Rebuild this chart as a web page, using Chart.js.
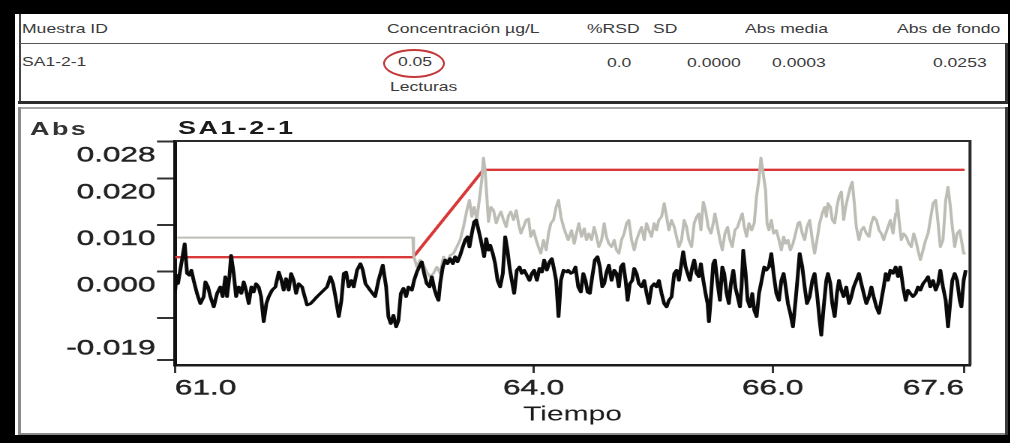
<!DOCTYPE html>
<html><head><meta charset="utf-8">
<script src="https://cdn.jsdelivr.net/npm/chart.js@4.4.1/dist/chart.umd.min.js"></script>
<style>
html,body{margin:0;padding:0;}
body{width:1010px;height:443px;background:#000;position:relative;overflow:hidden;font-family:"Liberation Sans",Arial,sans-serif;}
#sheet{position:absolute;left:15px;top:14px;width:993px;height:421px;background:#fff;}
.ln{position:absolute;}
#tbl{position:absolute;left:0;top:0;width:748px;height:110px;transform:scaleX(1.35);transform-origin:0 0;}
#tbl div{position:absolute;font-size:13px;line-height:13px;color:#3a3a3a;white-space:nowrap;}
#ell{position:absolute;left:383px;top:48.5px;width:62px;height:29px;box-sizing:border-box;border:2px solid #c43a3a;border-radius:50%;}
#wrap{position:absolute;left:21px;top:108px;width:656px;height:335px;transform:scaleX(1.5);transform-origin:0 0;}
#wrap canvas{position:absolute;left:0;top:0;}
.ct{position:absolute;font-family:"Liberation Sans",Arial,sans-serif;font-weight:bold;font-size:18px;line-height:18px;letter-spacing:1.6px;white-space:nowrap;}
</style>
</head>
<body>
<div id="sheet"></div>
<div class="ln" style="left:18.5px;top:14px;width:2px;height:90px;background:#444"></div>
<div class="ln" style="left:20px;top:42.5px;width:986px;height:1.5px;background:#555"></div>
<div class="ln" style="left:1005px;top:43px;width:3px;height:61px;background:#333"></div>
<div class="ln" style="left:18px;top:101px;width:990px;height:3px;background:#2b2b2b"></div>
<div class="ln" style="left:18px;top:107px;width:988px;height:2px;background:#a5a5a5"></div>
<div class="ln" style="left:18px;top:107px;width:2.5px;height:328px;background:#8a8a8a"></div>
<div class="ln" style="left:18px;top:432.5px;width:990px;height:2.5px;background:#8a8a8a"></div>
<div class="ln" style="left:1005px;top:107px;width:3px;height:328px;background:#3a3a3a"></div>
<div id="tbl">
  <div style="left:16.3px;top:21.7px">Muestra ID</div>
  <div style="left:286.7px;top:21.7px">Concentración µg/L</div>
  <div style="left:434.8px;top:21.7px">%RSD</div>
  <div style="left:483.7px;top:21.7px">SD</div>
  <div style="left:551.9px;top:21.7px">Abs media</div>
  <div style="left:664.4px;top:21.7px">Abs de fondo</div>
  <div style="left:16.3px;top:55px">SA1-2-1</div>
  <div style="left:294.8px;top:55px">0.05</div>
  <div style="left:449.6px;top:56px">0.0</div>
  <div style="left:508.9px;top:56px">0.0000</div>
  <div style="left:571.9px;top:56px">0.0003</div>
  <div style="left:691.1px;top:56px">0.0253</div>
  <div style="left:288.9px;top:79.5px">Lecturas</div>
</div>
<div id="ell"></div>
<div id="wrap">
  <canvas id="c" width="656" height="335"></canvas>
  <div class="ct" style="left:6px;top:11.6px;color:#333">Abs</div>
  <div class="ct" style="left:104.7px;top:10.6px;color:#1a1a1a">SA1-2-1</div>
</div>
<script>
// ---- data (time in min, absorbance) ----
const xTickValues = [61.0, 64.0, 66.0, 67.6];
const xTickLabels = ['61.0', '64.0', '66.0', '67.6'];
const yTickValues = [-0.019, -0.010, 0.000, 0.010, 0.020, 0.028];
const yTickLabels = ['-0.019', '', '0.000', '0.010', '0.020', '0.028'];

const redT = [61.0, 62.992, 63.580, 67.605];
const redV = [0.0031, 0.0031, 0.0219, 0.0219];

const blackT = [61.000,61.012,61.025,61.081,61.101,61.120,61.137,61.156,61.184,61.212,61.240,61.254,61.276,61.296,61.324,61.352,61.379,61.399,61.421,61.435,61.455,61.469,61.491,61.511,61.533,61.555,61.575,61.594,61.617,61.639,61.658,61.678,61.700,61.720,61.742,61.764,61.784,61.812,61.840,61.868,61.890,61.909,61.929,61.951,61.971,61.993,62.013,62.035,62.063,62.085,62.105,62.133,62.160,62.188,62.216,62.244,62.272,62.300,62.322,62.342,62.370,62.392,62.412,62.431,62.453,62.476,62.495,62.523,62.551,62.571,62.593,
62.632,62.674,62.702,62.738,62.766,62.785,62.805,62.827,62.850,62.869,62.889,62.911,62.933,62.953,62.981,63.000,63.023,63.042,63.064,63.084,63.106,63.129,63.148,63.168,63.190,63.204,63.218,63.240,63.260,63.279,63.301,63.324,63.343,63.363,63.385,63.407,63.427,63.447,63.463,63.483,63.502,63.519,63.539,63.558,63.575,63.586,63.603,63.622,63.636,63.658,63.678,63.698,63.720,63.742,63.762,63.781,63.798,63.817,63.837,63.859,63.882,63.901,63.921,63.943,63.965,63.985,64.004,64.027,64.049,64.069,64.088,64.110,64.133,64.152,64.172,64.188,64.208,64.228,64.250,64.278,
64.289,64.311,64.331,64.350,64.373,64.395,64.415,64.434,64.451,64.470,64.490,64.512,64.534,64.554,64.574,64.590,64.610,64.629,64.652,64.674,64.693,64.713,64.730,64.749,64.769,64.786,64.805,64.825,64.841,64.861,64.880,64.903,64.925,64.945,64.964,64.986,65.009,65.028,65.048,65.070,65.092,65.112,65.131,65.154,65.176,65.196,65.215,65.232,65.251,65.271,65.288,65.307,65.327,65.343,65.363,65.382,65.399,65.419,65.438,65.455,65.466,65.483,65.502,65.516,65.539,65.558,65.578,65.594,65.614,65.633,65.650,65.670,65.689,65.706,65.726,65.739,65.753,65.773,65.790,65.809,65.829,65.845,65.865,65.885,65.907,65.929,
65.946,65.968,65.988,66.007,66.030,66.052,66.072,66.091,66.108,66.127,66.147,66.169,66.191,66.211,66.225,66.247,66.267,66.286,66.309,66.331,66.350,66.370,66.392,66.406,66.426,66.448,66.462,66.482,66.498,66.518,66.537,66.554,66.574,66.593,66.615,66.638,66.657,66.677,66.699,66.721,66.741,66.761,66.783,66.805,66.825,66.844,66.867,66.889,66.908,66.928,66.945,66.964,66.984,67.006,67.028,67.048,67.067,67.090,67.112,67.131,67.151,67.173,67.196,67.215,67.235,67.257,67.279,67.299,67.318,67.341,67.363,67.383,67.402,67.424,67.447,67.466,67.486,67.502,67.522,67.542,67.564,67.578,67.597,67.614];
const blackV = [-0.0045,-0.0008,-0.0026,0.0060,-0.0004,-0.0008,0.0003,-0.0019,-0.0047,-0.0069,-0.0054,-0.0022,-0.0033,-0.0054,-0.0076,-0.0047,-0.0033,-0.0054,-0.0011,-0.0054,-0.0011,0.0035,-0.0004,-0.0054,-0.0033,-0.0047,-0.0022,-0.0040,-0.0069,-0.0033,-0.0044,-0.0026,-0.0033,-0.0054,-0.0108,-0.0069,-0.0054,-0.0040,-0.0033,-0.0001,-0.0019,-0.0040,-0.0015,-0.0040,-0.0004,-0.0019,-0.0047,-0.0026,-0.0033,-0.0054,-0.0072,-0.0069,-0.0062,-0.0054,-0.0047,-0.0040,-0.0033,-0.0011,-0.0026,-0.0054,-0.0097,-0.0062,-0.0004,-0.0001,-0.0033,-0.0019,-0.0033,0.0003,0.0017,0.0003,-0.0026,
-0.0040,-0.0054,-0.0019,0.0014,-0.0033,-0.0097,-0.0112,-0.0094,-0.0119,-0.0105,-0.0047,-0.0036,-0.0054,-0.0033,-0.0040,-0.0019,-0.0001,0.0010,0.0021,-0.0004,-0.0026,-0.0033,-0.0011,-0.0036,-0.0054,-0.0062,-0.0026,0.0010,0.0025,0.0017,0.0028,0.0017,0.0032,0.0021,0.0035,0.0053,0.0068,0.0075,0.0053,0.0082,0.0107,0.0111,0.0089,0.0068,0.0046,0.0032,0.0071,0.0046,0.0057,0.0039,0.0017,-0.0019,-0.0033,-0.0004,0.0075,0.0046,0.0010,-0.0019,-0.0047,0.0003,0.0010,-0.0004,0.0003,-0.0008,-0.0019,-0.0004,0.0003,-0.0019,0.0007,-0.0001,0.0025,0.0003,0.0021,0.0028,0.0003,-0.0019,-0.0097,-0.0019,0.0003,-0.0001,
0.0003,-0.0004,-0.0001,0.0010,-0.0033,-0.0044,-0.0004,-0.0019,-0.0044,-0.0047,-0.0011,0.0025,0.0032,0.0010,-0.0033,-0.0026,-0.0001,0.0014,-0.0019,0.0003,-0.0004,-0.0033,0.0010,0.0017,-0.0019,-0.0062,-0.0026,-0.0019,0.0007,-0.0004,-0.0026,-0.0033,-0.0019,-0.0047,-0.0069,-0.0033,-0.0026,-0.0033,-0.0019,-0.0047,-0.0069,-0.0076,-0.0062,-0.0054,-0.0004,0.0003,-0.0019,0.0010,0.0043,0.0010,-0.0004,-0.0019,0.0010,0.0025,-0.0004,-0.0011,0.0017,-0.0019,-0.0047,-0.0069,-0.0108,-0.0054,0.0017,0.0025,-0.0026,-0.0062,0.0010,-0.0004,-0.0047,-0.0069,-0.0026,0.0003,-0.0036,-0.0054,-0.0076,-0.0033,0.0046,-0.0004,-0.0062,-0.0076,-0.0047,-0.0083,-0.0097,-0.0047,-0.0019,0.0010,
0.0003,0.0010,0.0039,-0.0004,-0.0047,-0.0062,-0.0019,-0.0004,-0.0033,-0.0069,-0.0090,-0.0119,-0.0062,-0.0004,0.0039,0.0010,-0.0033,-0.0069,-0.0054,-0.0019,-0.0004,-0.0047,-0.0105,-0.0137,-0.0076,-0.0019,-0.0004,-0.0026,-0.0069,-0.0097,-0.0047,-0.0019,-0.0040,-0.0054,-0.0033,-0.0069,-0.0054,-0.0033,-0.0019,-0.0004,-0.0026,-0.0047,-0.0069,-0.0054,-0.0033,-0.0054,-0.0076,-0.0090,-0.0062,-0.0033,-0.0004,-0.0019,0.0003,-0.0004,0.0010,-0.0011,0.0010,-0.0033,-0.0062,-0.0040,-0.0047,-0.0054,-0.0047,-0.0033,-0.0040,-0.0026,-0.0019,-0.0011,-0.0033,-0.0019,-0.0040,-0.0026,0.0003,-0.0033,-0.0062,-0.0119,-0.0062,-0.0019,-0.0004,-0.0019,-0.0062,-0.0076,-0.0019,0.0003];

const grayT = [61.020,62.990,62.995,63.023,63.050,63.078,63.106,63.134,63.162,63.190,63.218,63.246,63.273,63.301,63.329,63.357,63.385,63.413,63.441,63.463,63.483,63.502,63.524,63.566,63.580,63.594,63.622,63.642,63.664,63.687,63.706,63.726,63.748,63.770,63.790,63.809,63.832,63.854,63.873,63.893,63.915,63.937,63.957,63.976,63.999,64.021,64.040,64.060,64.082,64.105,64.124,64.144,64.166,64.188,64.208,64.228,64.250,64.278,
64.289,64.317,64.339,64.358,64.378,64.400,64.423,64.442,64.462,64.484,64.506,64.526,64.545,64.568,64.590,64.609,64.629,64.651,64.674,64.693,64.713,64.735,64.757,64.777,64.796,64.819,64.841,64.861,64.880,64.902,64.925,64.944,64.964,64.986,65.008,65.028,65.047,65.070,65.092,65.112,65.131,65.153,65.176,65.195,65.215,65.237,65.259,65.279,65.298,65.321,65.343,65.363,65.382,65.399,65.419,65.438,65.460,65.483,65.502,65.516,65.538,65.558,65.578,65.600,65.622,65.642,65.661,65.683,65.706,65.725,65.745,65.762,65.781,65.801,65.823,65.845,65.864,65.884,65.901,65.920,65.940,
65.952,65.968,65.988,66.007,66.030,66.052,66.072,66.091,66.108,66.127,66.147,66.169,66.191,66.211,66.225,66.247,66.267,66.286,66.309,66.331,66.350,66.370,66.392,66.414,66.434,66.448,66.462,66.482,66.498,66.518,66.537,66.554,66.574,66.593,66.610,66.629,66.649,66.665,66.685,66.699,66.721,66.741,66.761,66.783,66.805,66.825,66.844,66.867,66.889,66.908,66.928,66.945,66.964,66.984,67.006,67.028,67.039,67.056,67.075,67.095,67.117,67.139,67.159,67.179,67.196,67.215,67.235,67.257,67.279,67.299,67.318,67.341,67.363,67.383,67.402,67.424,67.447,67.466,67.486,67.502,67.522,67.542,67.564,67.578,67.597,67.614];
const grayV = [0.0073,0.0073,0.0035,0.0010,0.0025,0.0014,-0.0001,-0.0011,-0.0004,0.0010,-0.0004,0.0032,0.0017,0.0035,0.0039,0.0053,0.0068,0.0096,0.0132,0.0154,0.0118,0.0139,0.0111,0.0197,0.0245,0.0218,0.0107,0.0139,0.0132,0.0104,0.0118,0.0129,0.0111,0.0096,0.0121,0.0129,0.0111,0.0132,0.0104,0.0082,0.0096,0.0111,0.0114,0.0075,0.0089,0.0068,0.0053,0.0039,0.0068,0.0046,0.0082,0.0104,0.0111,0.0139,0.0154,0.0118,0.0096,0.0075,
0.0068,0.0089,0.0060,0.0082,0.0104,0.0075,0.0093,0.0068,0.0082,0.0068,0.0096,0.0075,0.0053,0.0068,0.0104,0.0075,0.0060,0.0053,0.0068,0.0046,0.0039,0.0068,0.0082,0.0104,0.0111,0.0068,0.0046,0.0068,0.0082,0.0096,0.0068,0.0104,0.0089,0.0075,0.0104,0.0089,0.0111,0.0118,0.0147,0.0118,0.0089,0.0111,0.0096,0.0075,0.0053,0.0068,0.0111,0.0096,0.0068,0.0053,0.0104,0.0118,0.0125,0.0089,0.0150,0.0132,0.0096,0.0082,0.0104,0.0125,0.0096,0.0068,0.0046,0.0082,0.0096,0.0068,0.0053,0.0089,0.0096,0.0111,0.0125,0.0096,0.0075,0.0104,0.0089,0.0104,0.0161,0.0197,0.0245,0.0211,0.0175,
0.0104,0.0089,0.0111,0.0082,0.0089,0.0068,0.0046,0.0075,0.0060,0.0068,0.0046,0.0060,0.0082,0.0104,0.0107,0.0082,0.0068,0.0096,0.0111,0.0068,0.0039,0.0068,0.0104,0.0125,0.0139,0.0118,0.0147,0.0139,0.0111,0.0104,0.0139,0.0161,0.0172,0.0111,0.0139,0.0161,0.0182,0.0193,0.0139,0.0096,0.0068,0.0089,0.0096,0.0082,0.0075,0.0104,0.0118,0.0111,0.0089,0.0082,0.0068,0.0082,0.0096,0.0111,0.0082,0.0125,0.0154,0.0111,0.0068,0.0082,0.0075,0.0060,0.0053,0.0082,0.0068,0.0046,0.0025,0.0046,0.0068,0.0082,0.0111,0.0147,0.0154,0.0104,0.0053,0.0068,0.0154,0.0182,0.0139,0.0096,0.0053,0.0082,0.0089,0.0068,0.0039,0.0039];

const toXY = (ts, vs) => ts.map((t, i) => ({ x: t, y: vs[i] }));

const framePlugin = {
  id: 'frame',
  beforeDatasetsDraw(chart) {
    const { ctx, chartArea: a } = chart;
    ctx.save();
    ctx.strokeStyle = '#2a2a2a';
    ctx.lineWidth = 2;
    ctx.beginPath();
    ctx.moveTo(a.left, a.top);
    ctx.lineTo(a.right, a.top);
    ctx.lineTo(a.right, a.bottom);
    ctx.stroke();
    ctx.restore();
  }
};

const FONT = '"Liberation Sans", Arial, sans-serif';

new Chart(document.getElementById('c'), {
  type: 'line',
  data: {
    datasets: [
      { label: 'Abs corregida', data: toXY(blackT, blackV), borderColor: '#0a0a0a', borderWidth: 2.5, pointRadius: 0, tension: 0, borderJoinStyle: 'round' },
      { label: 'Abs', data: toXY(grayT, grayV), borderColor: '#bdbdb6', borderWidth: 2, pointRadius: 0, tension: 0, borderJoinStyle: 'round' },
      { label: 'Fondo', data: toXY(redT, redV), borderColor: 'rgb(216,56,56)', borderWidth: 2.3, pointRadius: 0, tension: 0 }
    ]
  },
  options: {
    responsive: false,
    animation: false,
    devicePixelRatio: 2,
    layout: { padding: { top: 33, right: 23.33, left: 0, bottom: 0 } },
    plugins: { legend: { display: false }, tooltip: { enabled: false }, title: { display: false } },
    scales: {
      x: {
        type: 'linear', min: 61.0, max: 67.65,
        afterBuildTicks: s => { s.ticks = xTickValues.map(v => ({ value: v })); },
        afterFit: s => { s.height = 78; },
        ticks: { align: 'inner', padding: 3, maxRotation: 0, autoSkip: false, color: '#222',
                 textStrokeColor: '#222', textStrokeWidth: 0.4,
                 font: { family: FONT, size: 21 }, callback: (v, i) => xTickLabels[i] },
        grid: { drawOnChartArea: false, drawTicks: true, tickLength: 8, color: '#333', lineWidth: 1.5 },
        border: { display: true, color: '#1a1a1a', width: 2.5 },
        title: { display: true, text: 'Tiempo', color: '#1a1a1a', font: { family: FONT, size: 20 }, padding: { top: 0, bottom: 16.2 } }
      },
      y: {
        type: 'linear', min: -0.0201, max: 0.0281,
        afterBuildTicks: s => { s.ticks = yTickValues.map(v => ({ value: v })); },
        afterFit: s => { s.width = 102.67; },
        ticks: { align: 'start', crossAlign: 'near', padding: 1, labelOffset: 3.5, autoSkip: false, color: '#222',
                 textStrokeColor: '#222', textStrokeWidth: 0.4,
                 font: { family: FONT, size: 21 },
                 callback: (v, i) => (i === 0 ? [yTickLabels[i], '', ''] : yTickLabels[i]) },
        grid: { drawOnChartArea: false, drawTicks: true, tickLength: 12, color: '#333', lineWidth: 2 },
        border: { display: true, color: '#111', width: 2.5 }
      }
    }
  },
  plugins: [framePlugin]
});
</script>
</body></html>
